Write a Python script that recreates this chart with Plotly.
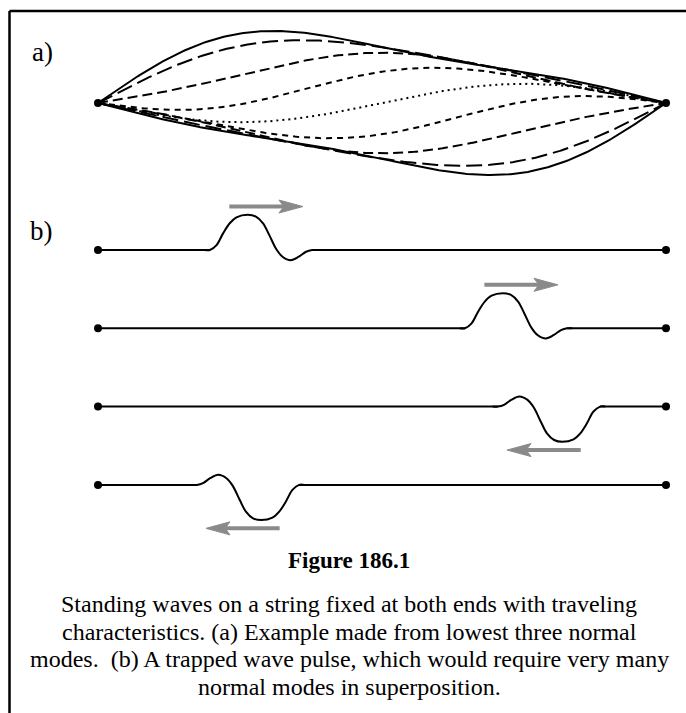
import numpy as np
import plotly.graph_objects as go

# ---------------- data ----------------
# (a) standing wave made of the lowest three normal modes
mode_numbers = [1, 2, 3]
mode_amplitudes = [0.915, 0.277, 0.110]
phase_steps = [0, 1, 2, 3, 4, 5, 6, 7, 8]          # snapshots at omega*t = k*pi/8
phase_dashes = ["solid", "16px,6px", "10px,5px", "6px,5px", "2px,4px",
                "6px,5px", "10px,5px", "16px,6px", "solid"]

# (b) trapped pulse: profile (u along pulse, v height)
pulse_u = [-0.05, 0.0, 0.065, 0.13, 0.194, 0.26, 0.37, 0.45, 0.52, 0.58,
           0.65, 0.71, 0.79, 0.87, 0.94, 1.0, 1.05]
pulse_v = [0.0, 0.0, 0.14, 0.48, 0.76, 0.93, 1.0, 0.95, 0.76, 0.43,
           0.02, -0.19, -0.29, -0.19, -0.05, 0.0, 0.0]
pulse_starts = [0.197, 0.646, 0.704, 0.174]       # fraction of string length
pulse_directions = [1, 1, -1, -1]                 # +1 right, -1 left
pulse_width = 0.18
pulse_height = 0.449
arrow_tail_frac = 0.19
arrow_head_frac = 0.91
arrow_offset = 0.555

caption_title = "Figure 186.1"
caption_lines = [
    "Standing waves on a string fixed at both ends with traveling",
    "characteristics. (a) Example made from lowest three normal",
    "modes.&nbsp; (b) A trapped wave pulse, which would require very many",
    "normal modes in superposition.",
]

# ---------------- layout helpers ----------------
W, H = 686, 713
X_LEFT_PX, X_RIGHT_PX = 98, 666
px_per_x = X_RIGHT_PX - X_LEFT_PX
xr0 = -X_LEFT_PX / px_per_x
xr1 = xr0 + W / px_per_x

A_CENTER_PX, A_UNIT_PX, A_HALF = 103, 69.4, 1.3
ya_dom = [1 - (A_CENTER_PX + A_HALF * A_UNIT_PX) / H, 1 - (A_CENTER_PX - A_HALF * A_UNIT_PX) / H]

B_TOP_PX, B_UNIT_PX, B_R0, B_R1 = 250, 78.3, -3.8, 0.9
yb_dom = [1 - (B_TOP_PX - B_R0 * B_UNIT_PX) / H, 1 - (B_TOP_PX - B_R1 * B_UNIT_PX) / H]

FONT = "Liberation Serif, Times New Roman, serif"

fig = go.Figure()

# ---- panel a ----
xs = np.linspace(0, 1, 301)
for k, dash in zip(phase_steps, phase_dashes):
    wt = k * np.pi / 8
    y = np.zeros_like(xs)
    for n, a in zip(mode_numbers, mode_amplitudes):
        y += a * np.sin(n * np.pi * xs) * np.cos(n * wt)
    fig.add_trace(go.Scatter(x=xs, y=y, mode="lines", xaxis="x", yaxis="y",
                             line=dict(color="black", width=2, dash=dash),
                             hoverinfo="skip"))
fig.add_trace(go.Scatter(x=[0, 1], y=[0, 0], mode="markers", xaxis="x", yaxis="y",
                         marker=dict(color="black", size=8), hoverinfo="skip"))

# ---- panel b ----
pu = np.array(pulse_u)
pv = np.array(pulse_v)
ARROW_COLOR = "#8a8a8a"
head_len_px, head_half_px, notch_px = 24, 6.5, 19
for i, (s0, d) in enumerate(zip(pulse_starts, pulse_directions)):
    base = -i
    if d > 0:
        u, v = pu, pv
    else:
        u, v = 1 - pu[::-1], -pv[::-1]
    px = s0 + u * pulse_width
    py = base + v * pulse_height
    fig.add_trace(go.Scatter(x=[0, s0], y=[base, base], mode="lines", xaxis="x", yaxis="y2",
                             line=dict(color="black", width=2), hoverinfo="skip"))
    fig.add_trace(go.Scatter(x=[s0 + pulse_width, 1], y=[base, base], mode="lines",
                             xaxis="x", yaxis="y2",
                             line=dict(color="black", width=2), hoverinfo="skip"))
    fig.add_trace(go.Scatter(x=px, y=py, mode="lines", xaxis="x", yaxis="y2",
                             line=dict(color="black", width=2, shape="spline", smoothing=1.0),
                             hoverinfo="skip"))
    fig.add_trace(go.Scatter(x=[0, 1], y=[base, base], mode="markers", xaxis="x", yaxis="y2",
                             marker=dict(color="black", size=8), hoverinfo="skip"))
    # arrow
    if d > 0:
        tail = s0 + arrow_tail_frac * pulse_width
        head = s0 + arrow_head_frac * pulse_width
        ay = base + arrow_offset
    else:
        tail = s0 + (1 - arrow_tail_frac) * pulse_width
        head = s0 + (1 - arrow_head_frac) * pulse_width
        ay = base - arrow_offset
    notch = head - d * notch_px / px_per_x
    fig.add_trace(go.Scatter(x=[tail, notch], y=[ay, ay], mode="lines", xaxis="x", yaxis="y2",
                             line=dict(color=ARROW_COLOR, width=4), hoverinfo="skip"))
    back = head - d * head_len_px / px_per_x
    hh = head_half_px / B_UNIT_PX
    fig.add_trace(go.Scatter(x=[head, back, notch, back, head],
                             y=[ay, ay + hh, ay, ay - hh, ay],
                             mode="lines", fill="toself", fillcolor=ARROW_COLOR,
                             xaxis="x", yaxis="y2",
                             line=dict(color=ARROW_COLOR, width=1), hoverinfo="skip"))

# ---- text ----
ann = []
ann.append(dict(text="a)", x=30 / W, y=1 - 52 / H, xref="paper", yref="paper",
                xanchor="left", yanchor="middle", showarrow=False,
                font=dict(family=FONT, size=27, color="black")))
ann.append(dict(text="b)", x=28 / W, y=1 - 231 / H, xref="paper", yref="paper",
                xanchor="left", yanchor="middle", showarrow=False,
                font=dict(family=FONT, size=27, color="black")))
CX = 349 / W
ann.append(dict(text="<b>" + caption_title + "</b>", x=CX, y=1 - 560 / H,
                xref="paper", yref="paper", xanchor="center", yanchor="middle",
                showarrow=False, font=dict(family=FONT, size=23, color="black")))
for j, line in enumerate(caption_lines):
    ann.append(dict(text=line, x=CX, y=1 - (604 + 27.6 * j) / H,
                    xref="paper", yref="paper", xanchor="center", yanchor="middle",
                    showarrow=False, font=dict(family=FONT, size=24, color="black")))

shapes = [
    dict(type="line", xref="paper", yref="paper", x0=9.5 / W, x1=1.01,
         y0=1 - 11 / H, y1=1 - 11 / H, line=dict(color="black", width=2.5)),
    dict(type="line", xref="paper", yref="paper", x0=9.5 / W, x1=9.5 / W,
         y0=1 - 11 / H, y1=-0.01, line=dict(color="black", width=2.5)),
]

fig.update_layout(
    width=W, height=H, margin=dict(l=0, r=0, t=0, b=0),
    paper_bgcolor="white", plot_bgcolor="white", showlegend=False,
    xaxis=dict(range=[xr0, xr1], domain=[0, 1], visible=False, fixedrange=True),
    yaxis=dict(range=[-A_HALF, A_HALF], domain=ya_dom, visible=False, anchor="x"),
    yaxis2=dict(range=[B_R0, B_R1], domain=yb_dom, visible=False, anchor="x"),
    annotations=ann, shapes=shapes,
)

fig.write_html(
    "out.html",
    config={"displayModeBar": False},
    post_script="document.body.style.margin='0';document.body.style.overflow='hidden';"
                "document.documentElement.style.overflow='hidden';",
)
